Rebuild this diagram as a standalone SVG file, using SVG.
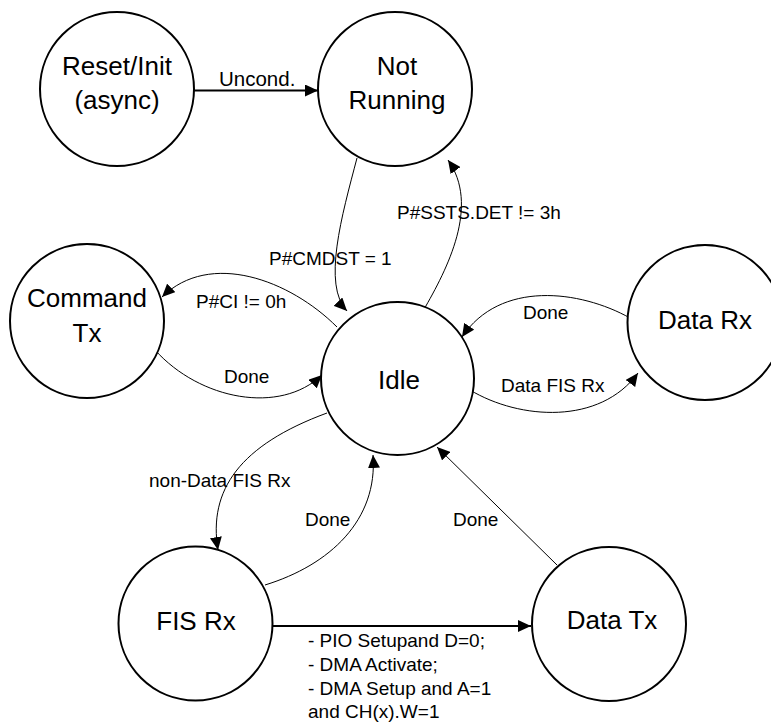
<svg xmlns="http://www.w3.org/2000/svg" width="771" height="723" viewBox="0 0 771 723">
<style>
.node{fill:#fff;stroke:#000;stroke-width:2}
.nl{font-family:"Liberation Sans",Arial,sans-serif;font-size:26px;fill:#000;text-anchor:middle}
.el{font-family:"Liberation Sans",Arial,sans-serif;font-size:19px;fill:#000}
.thin{fill:none;stroke:#000;stroke-width:1}
.thick{fill:none;stroke:#000;stroke-width:2}
</style>
<defs>
<marker id="arr" markerUnits="userSpaceOnUse" markerWidth="14" markerHeight="12" refX="13" refY="6" orient="auto" viewBox="0 0 14 12">
<path d="M0,0 L13,6 L0,12 z" fill="#000"/>
</marker>
</defs>
<rect width="771" height="723" fill="#fff"/>
<g id="connectors">
<path class="thick" d="M194,90.5 L318,90.5" marker-end="url(#arr)"/>
<path class="thin" d="M357,158 C342,215 322,285 347,311" marker-end="url(#arr)"/>
<path class="thin" d="M423,311 C448,268 480,205 448,160" marker-end="url(#arr)"/>
<path class="thin" d="M337,327 C290,280 210,250 162,297" marker-end="url(#arr)"/>
<path class="thin" d="M155,350 C200,400 280,415 322,375" marker-end="url(#arr)"/>
<path class="thin" d="M630,318 C580,290 500,280 462,337" marker-end="url(#arr)"/>
<path class="thin" d="M470,390 C520,420 600,425 638,373" marker-end="url(#arr)"/>
<path class="thin" d="M327,413 C240,445 208,490 218,550" marker-end="url(#arr)"/>
<path class="thin" d="M265,585 C330,565 378,520 373,455" marker-end="url(#arr)"/>
<path class="thin" d="M557,565 L437,447" marker-end="url(#arr)"/>
<path class="thick" d="M267,626 L531,626" marker-end="url(#arr)"/>
<text class="el" x="219" y="86" style="font-size:20.5px">Uncond.</text>
<text class="el" x="269" y="265">P#CMDST = 1</text>
<text class="el" x="397" y="219">P#SSTS.DET != 3h</text>
<text class="el" x="196" y="308">P#CI != 0h</text>
<text class="el" x="224" y="383">Done</text>
<text class="el" x="523" y="319">Done</text>
<text class="el" x="501" y="392">Data FIS Rx</text>
<text class="el" x="149" y="487">non-Data FIS Rx</text>
<text class="el" x="305" y="526">Done</text>
<text class="el" x="453" y="526">Done</text>
<text class="el" x="308" y="647">- PIO Setupand D=0;</text>
<text class="el" x="308" y="671">- DMA Activate;</text>
<text class="el" x="308" y="695">- DMA Setup and A=1</text>
<text class="el" x="308" y="718">and CH(x).W=1</text>
</g>
<g id="reset">
<circle class="node" cx="117" cy="89" r="77"/>
<text class="nl" x="117" y="75">Reset/Init</text>
<text class="nl" x="117" y="109">(async)</text>
</g>
<g id="notrunning">
<circle class="node" cx="395" cy="89" r="77"/>
<text class="nl" x="397" y="75">Not</text>
<text class="nl" x="397" y="109">Running</text>
</g>
<g id="commandtx">
<circle class="node" cx="87" cy="321" r="77"/>
<text class="nl" x="87" y="307">Command</text>
<text class="nl" x="87" y="342">Tx</text>
</g>
<g id="idle">
<circle class="node" cx="397.5" cy="378.5" r="76.5"/>
<text class="nl" x="399" y="389">Idle</text>
</g>
<g id="datarx">
<circle class="node" cx="705" cy="322.5" r="77.5"/>
<text class="nl" x="705" y="329">Data Rx</text>
</g>
<g id="fisrx">
<circle class="node" cx="195.5" cy="623.5" r="77"/>
<text class="nl" x="196" y="630">FIS Rx</text>
</g>
<g id="datatx">
<circle class="node" cx="609" cy="624" r="77"/>
<text class="nl" x="612" y="629">Data Tx</text>
</g>
</svg>
